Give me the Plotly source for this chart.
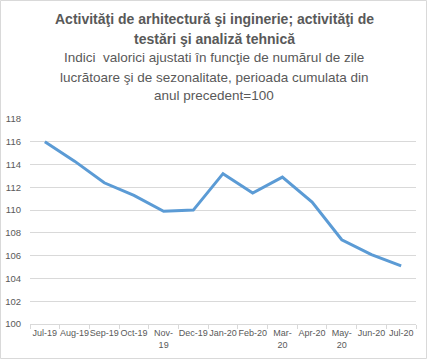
import plotly.graph_objects as go

categories = ["Jul-19", "Aug-19", "Sep-19", "Oct-19", "Nov-19", "Dec-19", "Jan-20",
              "Feb-20", "Mar-20", "Apr-20", "May-20", "Jun-20", "Jul-20"]
tick_text = ["Jul-19", "Aug-19", "Sep-19", "Oct-19", "Nov-<br>19", "Dec-19", "Jan-20",
             "Feb-20", "Mar-<br>20", "Apr-20", "May-<br>20", "Jun-20", "Jul-20"]
values = [116.0, 114.3, 112.4, 111.3, 109.9, 110.0, 113.2, 111.5, 112.9, 110.7, 107.4, 106.1, 105.1]
y_ticks = [100, 102, 104, 106, 108, 110, 112, 114, 116, 118]

title_lines = ["Activităţi de arhitectură şi inginerie; activităţi de",
               "testări şi analiză tehnică"]
subtitle_lines = ["Indici  valorici ajustati în funcţie de numărul de zile",
                  "lucrătoare şi de sezonalitate, perioada cumulata din",
                  "anul precedent=100"]

W, H = 430, 359
fig = go.Figure()
fig.add_trace(go.Scatter(x=categories, y=values, mode="lines",
                         line=dict(color="#5B9BD5", width=3), hoverinfo="x+y"))

gray = "#595959"
font_family = "Liberation Sans, Arial, sans-serif"
annotations = []
title_y = [19, 39]
for t, yy in zip(title_lines, title_y):
    annotations.append(dict(text="<b>" + t + "</b>", x=214 / W, y=1 - yy / H,
                            xref="paper", yref="paper", showarrow=False,
                            xanchor="center", yanchor="middle",
                            font=dict(size=14, color=gray, family=font_family)))
sub_y = [58, 77, 96]
for t, yy in zip(subtitle_lines, sub_y):
    annotations.append(dict(text=t, x=214 / W, y=1 - yy / H,
                            xref="paper", yref="paper", showarrow=False,
                            xanchor="center", yanchor="middle",
                            font=dict(size=13.5, color=gray, family=font_family)))

ml, mr, mt, mb = 30, 14, 119, 35
pw, ph = W - ml - mr, H - mt - mb
for a in annotations:
    page_x = a["x"] * W
    page_y = (1 - a["y"]) * H
    a["x"] = (page_x - ml) / pw
    a["y"] = 1 - (page_y - mt) / ph

fig.update_layout(
    width=W, height=H,
    margin=dict(l=ml, r=mr, t=mt, b=mb, autoexpand=False),
    paper_bgcolor="white", plot_bgcolor="white",
    showlegend=False,
    annotations=annotations,
    font=dict(family=font_family, color=gray, size=9),
    xaxis=dict(type="category", tickmode="array", tickvals=categories, ticktext=tick_text,
               range=[-0.5, len(categories) - 0.5], automargin=False,
               tickson="boundaries", ticks="outside", ticklen=4, tickcolor="#d9d9d9",
               showline=True, linecolor="#d9d9d9", linewidth=1, showgrid=False,
               tickfont=dict(size=9, color=gray), tickangle=0),
    yaxis=dict(range=[100, 118], tickvals=y_ticks, showgrid=True, gridcolor="#d9d9d9",
               gridwidth=1, zeroline=False, showline=False, ticks="", automargin=False,
               ticklabelstandoff=8,
               tickfont=dict(size=9.5, color=gray)),
    shapes=[dict(type="rect", xref="paper", yref="paper",
                 x0=(0.5 - ml) / pw, x1=(426.5 - ml) / pw,
                 y0=1 - (358.5 - mt) / ph, y1=1 - (0.5 - mt) / ph,
                 line=dict(color="#d9d9d9", width=1), layer="below")],
)

fig.write_html("out.html", config={"displayModeBar": False},
               post_script="document.body.style.margin='0';document.body.style.overflow='hidden';")
